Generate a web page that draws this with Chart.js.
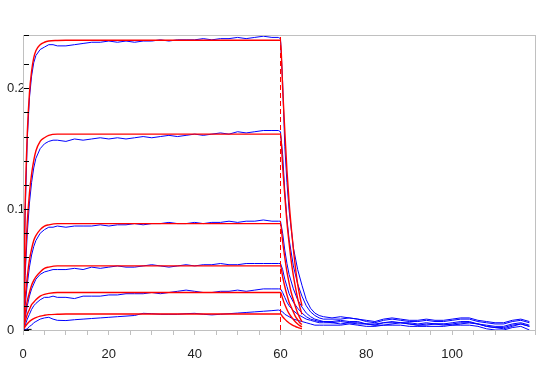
<!DOCTYPE html>
<html>
<head>
<meta charset="utf-8">
<script src="https://cdn.jsdelivr.net/npm/chart.js@4/dist/chart.umd.min.js"></script>
<style>
  html, body { margin: 0; padding: 0; background: #fff; }
</style>
</head>
<body>
<canvas id="chart-sensor" width="547" height="366"></canvas>
<script>
// measured response curves (blue), one shared time axis
const blueTime = [0, 0.5, 1, 1.5, 2, 2.5, 3, 4, 5, 6, 7, 8,
  10, 12, 14, 16, 18, 20, 22, 24, 26, 28, 30, 32, 34, 36, 38, 40, 42, 44, 46, 48, 50, 52, 54, 56, 58,
  59.5,
  60, 60.5, 61, 61.5, 62, 63, 64, 65, 66, 67, 68, 69, 70,
  72, 74, 76, 78, 80, 82, 84, 86, 88, 90, 92, 94, 96, 98, 100, 102, 104, 106, 108, 110, 112, 114, 116, 118];

const blue1 = [0, 0.095, 0.158, 0.192, 0.210, 0.221, 0.227, 0.232, 0.234, 0.236, 0.236, 0.235,
  0.235, 0.236, 0.237, 0.238, 0.238, 0.239, 0.238, 0.239, 0.238, 0.239, 0.239, 0.240, 0.239, 0.240, 0.240, 0.240, 0.241, 0.240, 0.241, 0.241, 0.242, 0.241, 0.242, 0.243, 0.242,
  0.242,
  0.241, 0.205, 0.152, 0.122, 0.099, 0.068, 0.050, 0.037, 0.025, 0.018, 0.014, 0.012, 0.011,
  0.010, 0.011, 0.010, 0.009, 0.008, 0.007, 0.009, 0.010, 0.009, 0.008, 0.008, 0.009, 0.008, 0.008, 0.009, 0.010, 0.010, 0.008, 0.007, 0.006, 0.006, 0.008, 0.009, 0.007];
const blue2 = [0, 0.045, 0.080, 0.105, 0.122, 0.134, 0.142, 0.150, 0.154, 0.156, 0.157, 0.157,
  0.156, 0.158, 0.157, 0.158, 0.159, 0.158, 0.159, 0.158, 0.159, 0.160, 0.159, 0.160, 0.161, 0.160, 0.161, 0.162, 0.161, 0.162, 0.163, 0.162, 0.164, 0.163, 0.164, 0.165, 0.165,
  0.165,
  0.164, 0.145, 0.115, 0.092, 0.075, 0.053, 0.038, 0.028, 0.020, 0.015, 0.012, 0.010, 0.009,
  0.009, 0.009, 0.010, 0.009, 0.007, 0.006, 0.008, 0.009, 0.008, 0.007, 0.007, 0.008, 0.007, 0.007, 0.008, 0.009, 0.009, 0.007, 0.006, 0.005, 0.005, 0.007, 0.008, 0.006];
const blue3 = [0, 0.020, 0.038, 0.052, 0.062, 0.069, 0.074, 0.080, 0.083, 0.085, 0.085, 0.086,
  0.085, 0.086, 0.086, 0.086, 0.087, 0.086, 0.087, 0.087, 0.088, 0.087, 0.088, 0.088, 0.089, 0.088, 0.088, 0.089, 0.088, 0.089, 0.089, 0.090, 0.089, 0.090, 0.090, 0.091, 0.090,
  0.090,
  0.090, 0.080, 0.066, 0.055, 0.046, 0.034, 0.025, 0.019, 0.014, 0.011, 0.009, 0.008, 0.007,
  0.007, 0.008, 0.007, 0.007, 0.005, 0.004, 0.006, 0.007, 0.006, 0.006, 0.005, 0.006, 0.005, 0.005, 0.006, 0.007, 0.007, 0.005, 0.004, 0.003, 0.003, 0.005, 0.006, 0.004];
const blue4 = [0, 0.010, 0.020, 0.028, 0.034, 0.038, 0.042, 0.046, 0.048, 0.049, 0.050, 0.050,
  0.050, 0.051, 0.050, 0.052, 0.051, 0.052, 0.053, 0.052, 0.052, 0.053, 0.054, 0.053, 0.052, 0.053, 0.054, 0.053, 0.054, 0.054, 0.055, 0.054, 0.054, 0.055, 0.055, 0.055, 0.055,
  0.055,
  0.055, 0.050, 0.042, 0.036, 0.030, 0.023, 0.018, 0.014, 0.011, 0.009, 0.008, 0.007, 0.007,
  0.006, 0.005, 0.006, 0.005, 0.005, 0.004, 0.004, 0.005, 0.006, 0.005, 0.004, 0.004, 0.005, 0.005, 0.004, 0.005, 0.006, 0.005, 0.003, 0.002, 0.001, 0.003, 0.005, 0.003];
const blue5 = [0, 0.004, 0.009, 0.013, 0.017, 0.020, 0.022, 0.025, 0.027, 0.027, 0.028, 0.027,
  0.027, 0.026, 0.028, 0.028, 0.028, 0.029, 0.029, 0.030, 0.030, 0.030, 0.031, 0.030, 0.031, 0.032, 0.033, 0.032, 0.031, 0.031, 0.032, 0.032, 0.033, 0.032, 0.033, 0.034, 0.034,
  0.034,
  0.034, 0.031, 0.027, 0.023, 0.020, 0.016, 0.013, 0.011, 0.009, 0.008, 0.007, 0.006, 0.006,
  0.006, 0.007, 0.006, 0.006, 0.005, 0.005, 0.006, 0.006, 0.006, 0.005, 0.004, 0.005, 0.005, 0.004, 0.005, 0.006, 0.006, 0.005, 0.003, 0.002, 0.002, 0.004, 0.005, 0.003];
const blue6 = [0, 0.000, 0.001, 0.003, 0.004, 0.006, 0.007, 0.009, 0.010, 0.0105, 0.009, 0.008,
  0.0078, 0.0085, 0.009, 0.0095, 0.010, 0.0105, 0.011, 0.0115, 0.012, 0.0138, 0.0135, 0.013, 0.013, 0.013, 0.0135, 0.0138, 0.013, 0.0125, 0.013, 0.0135, 0.014, 0.0145, 0.015, 0.0155, 0.016,
  0.0165,
  0.016, 0.015, 0.013, 0.012, 0.011, 0.009, 0.008, 0.007, 0.006, 0.005, 0.004, 0.004, 0.004,
  0.004, 0.004, 0.005, 0.004, 0.003, 0.003, 0.004, 0.004, 0.004, 0.003, 0.003, 0.003, 0.003, 0.003, 0.004, 0.004, 0.004, 0.003, 0.001, 0.000, 0.000, 0.002, 0.003, 0.000];

// fitted curves (red)
const fitTime = [0, 0.5, 1, 1.5, 2, 2.5, 3, 4, 5, 6, 8, 10, 15, 60,
  60.5, 61, 61.5, 62, 62.5, 63, 63.5, 64, 64.5, 65];
const fit1 = [0, 0.104, 0.163, 0.196, 0.214, 0.225, 0.231, 0.236, 0.238, 0.239, 0.2395, 0.2397, 0.2397, 0.2397,
  0.200, 0.165, 0.132, 0.106, 0.085, 0.067, 0.051, 0.038, 0.028, 0.020];
const fit2 = [0, 0.053, 0.089, 0.113, 0.129, 0.140, 0.148, 0.156, 0.159, 0.161, 0.162, 0.162, 0.162, 0.162,
  0.135, 0.111, 0.089, 0.072, 0.057, 0.045, 0.035, 0.026, 0.019, 0.013];
const fit3 = [0, 0.026, 0.044, 0.058, 0.067, 0.074, 0.078, 0.083, 0.086, 0.087, 0.088, 0.088, 0.088, 0.088,
  0.073, 0.060, 0.048, 0.039, 0.031, 0.025, 0.019, 0.014, 0.010, 0.007];
const fit4 = [0, 0.013, 0.024, 0.031, 0.037, 0.041, 0.044, 0.048, 0.051, 0.052, 0.053, 0.053, 0.053, 0.053,
  0.044, 0.036, 0.029, 0.023, 0.019, 0.015, 0.011, 0.0085, 0.006, 0.0045];
const fit5 = [0, 0.007, 0.013, 0.017, 0.021, 0.023, 0.025, 0.028, 0.0295, 0.0303, 0.031, 0.031, 0.031, 0.031,
  0.026, 0.021, 0.017, 0.0135, 0.011, 0.0087, 0.0067, 0.005, 0.0036, 0.0026];
const fit6 = [0, 0.0029, 0.0052, 0.0071, 0.0084, 0.0095, 0.0103, 0.0115, 0.0122, 0.0127, 0.0130, 0.0132, 0.0132, 0.0132,
  0.011, 0.009, 0.0072, 0.0058, 0.0047, 0.0037, 0.0029, 0.0021, 0.0015, 0.0011];

// short black reference trace at start
const blackTime = [0, 2];
const blackValues = [0.0005, 0.0005];

// injection end marker and axis ranges
const injectionEnd = 60;
const xMin = 0, xMax = 119.3;
const yMin = 0, yMax = 0.244;

const toPoints = (xs, ys) => xs.map((x, i) => ({x: x, y: ys[i]}));

const blueSets = [blue1, blue2, blue3, blue4, blue5, blue6].map(v => ({
  data: toPoints(blueTime, v),
  borderColor: 'rgb(0, 0, 255)',
  borderWidth: 1,
  pointRadius: 0,
  tension: 0,
  order: 3
}));

const fitSets = [fit1, fit2, fit3, fit4, fit5, fit6].map(v => ({
  data: toPoints(fitTime, v),
  borderColor: 'rgb(255, 0, 0)',
  borderWidth: 1.4,
  pointRadius: 0,
  cubicInterpolationMode: 'monotone',
  order: 1
}));

const markerSet = {
  data: toPoints([injectionEnd, injectionEnd], [yMin, yMax]),
  borderColor: 'rgb(255, 0, 0)',
  borderWidth: 1,
  borderDash: [5, 3],
  pointRadius: 0,
  order: 2
};

const blackSet = {
  data: toPoints(blackTime, blackValues),
  borderColor: '#000000',
  borderWidth: 1,
  pointRadius: 0,
  order: 4
};

// frame + inward black y ticks
const framePlugin = {
  id: 'frame',
  afterDraw(chart) {
    const {ctx, chartArea: a} = chart;
    const y = chart.scales.y;
    ctx.save();
    ctx.strokeStyle = '#c0c0c0';
    ctx.lineWidth = 1;
    ctx.strokeRect(a.left + 0.5, a.top + 0.5, a.right - a.left, a.bottom - a.top);
    ctx.strokeStyle = '#000';
    y.ticks.forEach(t => {
      const py = Math.round(y.getPixelForValue(t.value)) + 0.5;
      ctx.beginPath();
      ctx.moveTo(a.left + 1, py);
      ctx.lineTo(a.left + 6, py);
      ctx.stroke();
    });
    ctx.restore();
  }
};

const isMultiple = (v, step) => Math.abs(v / step - Math.round(v / step)) < 1e-6;

const chartSensor = new Chart(document.getElementById('chart-sensor'), {
  type: 'line',
  data: { datasets: [...fitSets, markerSet, ...blueSets, blackSet] },
  options: {
    responsive: false,
    animation: false,
    devicePixelRatio: 1,
    layout: { padding: { left: 7, right: 9, top: 35, bottom: 0 } },
    plugins: { legend: { display: false }, tooltip: { enabled: false } },
    scales: {
      x: {
        type: 'linear',
        min: xMin,
        max: xMax,
        afterFit(s) { s.height = 36; },
        border: { display: false },
        grid: { drawOnChartArea: false, drawTicks: true, tickLength: 5, color: '#c0c0c0' },
        ticks: {
          stepSize: 5,
          autoSkip: false,
          maxRotation: 0,
          padding: 12,
          color: '#222',
          font: { family: 'Liberation Sans', size: 13 },
          callback: v => isMultiple(v, 20) ? String(v) : ''
        }
      },
      y: {
        type: 'linear',
        min: yMin,
        max: yMax,
        afterFit(s) { s.width = 16; },
        border: { display: false },
        grid: { display: false },
        ticks: {
          stepSize: 0.02,
          autoSkip: false,
          crossAlign: 'far',
          color: '#222',
          font: { family: 'Liberation Sans', size: 13 },
          callback: v => isMultiple(v, 0.1) ? String(Math.round(v * 10) / 10) : ''
        }
      }
    }
  },
  plugins: [framePlugin]
});
</script>
</body>
</html>
